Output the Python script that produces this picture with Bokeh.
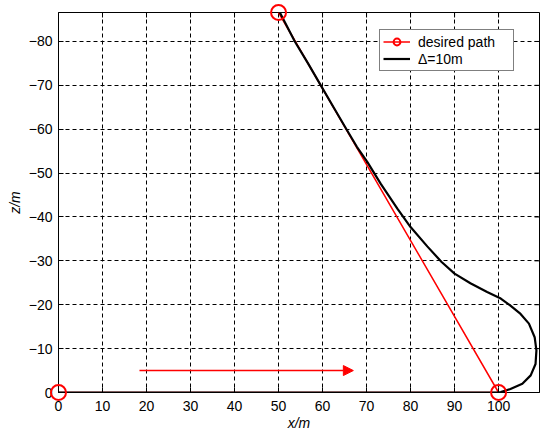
from bokeh.plotting import figure
from bokeh.models import (Range1d, FixedTicker, Legend, LegendItem,
                          Arrow, NormalHead)
from bokeh.embed import file_html
from bokeh.resources import INLINE
import math

# ---- data ----
x_ticks = [0, 10, 20, 30, 40, 50, 60, 70, 80, 90, 100]
z_ticks = [0, -10, -20, -30, -40, -50, -60, -70, -80]

desired_x = [0, 100, 50]
desired_z = [0, 0, -86.6]

track_x = [0, 100, 100.5, 102.7, 105.4, 107.3, 108.4, 108.6, 108.2, 106.9, 105.0,
           102.7, 100.5, 97.4, 93.6, 90.0, 87.0, 83.8, 80.0, 77.0, 73.2, 70.2,
           67.8, 65.6, 62.5, 59.6, 56.7, 53.7, 50.3]
track_z = [0, 0, -0.1, -0.8, -2.0, -3.9, -6.5, -9.6, -12.6, -15.7, -17.9,
           -19.8, -21.4, -22.9, -24.9, -27.1, -29.8, -33.3, -37.7, -41.9, -47.6, -52.5,
           -56.0, -59.7, -65.0, -70.0, -75.0, -80.0, -86.6]

arrow_x = [18.4, 67.0]
arrow_z = [-5.0, -5.0]

x_lim = [0, 109.3]
z_lim = [0, -86.6]

FONT = "Liberation Sans"
RED = "#ff0000"

p = figure(width=546, height=434, output_backend="svg", toolbar_location=None,
           x_range=Range1d(x_lim[0], x_lim[1]), y_range=Range1d(z_lim[0], z_lim[1]),
           min_border_left=58, min_border_right=7, min_border_top=12, min_border_bottom=42)
p.background_fill_color = "white"
p.border_fill_color = "white"
p.outline_line_color = "black"
p.outline_line_width = 1
p.outline_line_alpha = 1

# axes
p.xaxis.ticker = FixedTicker(ticks=x_ticks)
p.yaxis.ticker = FixedTicker(ticks=z_ticks)
p.xaxis.axis_label = "x/m"
p.yaxis.axis_label = "z/m"
for ax in (p.xaxis[0], p.yaxis[0]):
    ax.major_tick_in = 5
    ax.major_tick_out = 0
    ax.minor_tick_line_color = None
    ax.axis_line_color = "black"
    ax.major_tick_line_color = "black"
    ax.major_label_text_font = FONT
    ax.major_label_text_font_size = "14px"
    ax.major_label_text_color = "black"
    ax.axis_label_text_font = FONT
    ax.axis_label_text_font_size = "14px"
    ax.axis_label_text_font_style = "italic"
    ax.axis_label_text_color = "black"
p.xaxis.major_label_standoff = 8
p.xaxis.axis_label_standoff = 1
p.yaxis.major_label_standoff = 6
p.yaxis.axis_label_standoff = 3

# grid
p.xgrid.ticker = FixedTicker(ticks=x_ticks)
p.ygrid.ticker = FixedTicker(ticks=z_ticks)
for g in (p.xgrid[0], p.ygrid[0]):
    g.grid_line_color = "black"
    g.grid_line_dash = "4 3"
    g.grid_line_width = 1
    g.grid_line_alpha = 1

# inward ticks on the top and right edges (half of each dash is clipped by the frame)
p.scatter(x_ticks, [z_lim[1]] * len(x_ticks), marker="dash", size=10, angle=math.pi / 2,
          line_color="black", line_width=1)
p.scatter([x_lim[1]] * len(z_ticks), z_ticks, marker="dash", size=10,
          line_color="black", line_width=1)

# desired path
r_line = p.line(desired_x, desired_z, line_color=RED, line_width=1.5)
# actual track
r_track = p.line(track_x, track_z, line_color="black", line_width=2.2, line_join="round")
r_pts = p.scatter(desired_x, desired_z, marker="circle", size=15, fill_color=None,
                  line_color=RED, line_width=2, level="overlay")

# direction arrow
p.add_layout(Arrow(x_start=arrow_x[0], y_start=arrow_z[0], x_end=arrow_x[1], y_end=arrow_z[1],
                   line_color=RED, line_width=1.5,
                   end=NormalHead(size=10, fill_color=RED, line_color=RED, line_width=1)))

legend = Legend(items=[LegendItem(label="desired path", renderers=[r_line, r_pts]),
                       LegendItem(label="\u0394=10m", renderers=[r_track])],
                location=(321, 321))
legend.label_text_font = FONT
legend.label_text_font_size = "14px"
legend.label_text_color = "black"
legend.border_line_color = "black"
legend.border_line_width = 1
legend.background_fill_color = "white"
legend.background_fill_alpha = 1
legend.padding = 3
legend.margin = 0
legend.spacing = 0
legend.glyph_width = 27
legend.glyph_height = 17
legend.label_height = 17
legend.label_width = 92
legend.label_standoff = 8
p.add_layout(legend)

open("out.html", "w").write(file_html(p, INLINE))
